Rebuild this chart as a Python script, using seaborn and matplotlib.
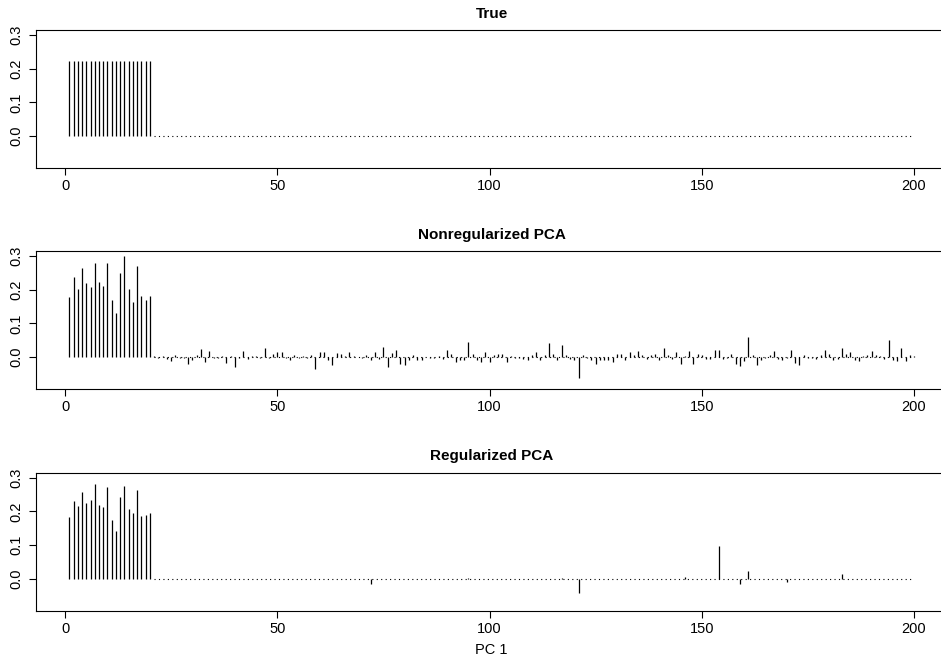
"""
Loadings of the first principal component (PC 1) for 200 variables:
true sparse loadings vs. ordinary PCA vs. regularized PCA.
Drawn as R-style spike plots (type = "h") with a dotted zero baseline.
"""
import numpy as np
import matplotlib
matplotlib.use("Agg")
import matplotlib.pyplot as plt
import seaborn as sns

# ── Data ─────────────────────────────────────────────────────────────────────
PC_INDEX = np.arange(1, 201)
N_SIGNAL = 20                      # first 20 variables carry the signal

TRUE_HEAD = [0.2236] * 20

NONREG_HEAD = [0.177, 0.238, 0.203, 0.264, 0.219, 0.207, 0.280, 0.224, 0.211, 0.280,
               0.168, 0.130, 0.251, 0.299, 0.203, 0.162, 0.270, 0.182, 0.170, 0.180]
NONREG_TAIL = [
     0.002, -0.002,  0.002, -0.007, -0.013,  0.007, -0.003, -0.003, -0.020, -0.010,   # 21-30
     0.005,  0.024, -0.016,  0.018, -0.003, -0.003,  0.003, -0.018,  0.004, -0.030,   # 31-40
    -0.003,  0.017, -0.005,  0.004,  0.003, -0.004,  0.027, -0.003,  0.008,  0.014,   # 41-50
     0.014, -0.004, -0.008,  0.005, -0.003,  0.002, -0.003,  0.005, -0.036,  0.015,   # 51-60
     0.014, -0.010, -0.024,  0.012,  0.010,  0.003,  0.016,  0.003,  0.001, -0.003,   # 61-70
     0.005, -0.010,  0.016, -0.006,  0.030, -0.030,  0.012,  0.022, -0.020, -0.024,   # 71-80
    -0.010,  0.005, -0.008, -0.010,  0.001, -0.004, -0.004,  0.004, -0.005,  0.020,   # 81-90
     0.008, -0.016, -0.008, -0.010,  0.044,  0.008, -0.008, -0.015,  0.014, -0.015,   # 91-100
     0.006,  0.008,  0.010, -0.015,  0.003, -0.003, -0.004, -0.005, -0.010,  0.006,   # 101-110
     0.016, -0.010,  0.005,  0.041,  0.010, -0.008,  0.036,  0.005, -0.005, -0.010,   # 111-120
    -0.062,  0.005, -0.003, -0.010, -0.020, -0.010, -0.010, -0.010, -0.016,  0.010,   # 121-130
     0.010, -0.008,  0.016,  0.006,  0.018,  0.005, -0.005,  0.006,  0.010, -0.010,   # 131-140
     0.027,  0.005, -0.005,  0.016, -0.022,  0.004,  0.019, -0.020,  0.010,  0.006,   # 141-150
    -0.006, -0.006,  0.021,  0.021, -0.005, -0.003,  0.010, -0.020, -0.026, -0.013,   # 151-160
     0.060,  0.005, -0.024, -0.008, -0.004,  0.006,  0.019, -0.005, -0.010, -0.003,   # 161-170
     0.020, -0.018, -0.024,  0.005, -0.003, -0.003, -0.006,  0.005,  0.020,  0.008,   # 171-180
    -0.010, -0.006,  0.026,  0.010,  0.014, -0.008, -0.012,  0.003,  0.006,  0.019,   # 181-190
     0.006,  0.003, -0.006,  0.050, -0.010, -0.012,  0.026, -0.012,  0.006,  0.003,   # 191-200
]

REG_HEAD = [0.182, 0.230, 0.216, 0.257, 0.224, 0.233, 0.280, 0.218, 0.213, 0.272,
            0.173, 0.141, 0.242, 0.275, 0.207, 0.196, 0.263, 0.185, 0.189, 0.196]
# regularized PCA: nearly all noise loadings shrunk to zero, a few survive
REG_TAIL_POS = [72, 95, 117, 121, 146, 154, 159, 161, 170, 183]
REG_TAIL_VAL = [-0.015, 0.002, 0.002, -0.043, 0.004, 0.098, -0.015, 0.022, -0.010, 0.013]

TITLES = ["True", "Nonregularized PCA", "Regularized PCA"]
Y_TICKS = [0.0, 0.1, 0.2, 0.3]
X_TICKS = [0, 50, 100, 150, 200]

# ── Style ────────────────────────────────────────────────────────────────────
INK = "#000000"
FONT = ["Liberation Sans", "DejaVu Sans"]

sns.set_theme(style="white")
plt.rcParams.update({
    "font.family": FONT,
    "text.color": INK,
    "axes.labelcolor": INK,
    "axes.titlecolor": INK,
    "axes.edgecolor": INK,
    "axes.linewidth": 0.8,
    "xtick.color": INK,
    "ytick.color": INK,
    "xtick.labelcolor": INK,
    "ytick.labelcolor": INK,
    "xtick.bottom": True,
    "ytick.left": True,
})


def build_series():
    true = np.array(TRUE_HEAD + [0.0] * (len(PC_INDEX) - N_SIGNAL))
    nonreg = np.array(NONREG_HEAD + NONREG_TAIL)
    reg = np.zeros(len(PC_INDEX))
    reg[:N_SIGNAL] = REG_HEAD
    reg[np.array(REG_TAIL_POS) - 1] = REG_TAIL_VAL
    return [true, nonreg, reg]


def draw_panel(ax, values, title, show_xlabel=False):
    # spikes, like R's type = "h"
    ax.vlines(PC_INDEX, 0, values, color=INK, linewidth=0.9)
    # dotted zero line over the noise variables
    tail_x = PC_INDEX[N_SIGNAL:]
    sns.lineplot(x=tail_x, y=np.zeros(len(tail_x)), ax=ax, color=INK,
                 linewidth=0.8, linestyle=(0, (1, 3)))

    ax.set_xlim(-6.96, 207.96)
    ax.set_ylim(-0.095, 0.315)
    ax.set_xticks(X_TICKS)
    ax.set_xticklabels([str(t) for t in X_TICKS])
    ax.set_yticks(Y_TICKS)
    ax.set_yticklabels([f"{t:.1f}" for t in Y_TICKS], rotation=90, va="center")
    ax.tick_params(axis="x", length=5, width=0.8, pad=3, labelsize=10.5)
    ax.tick_params(axis="y", length=5, width=0.8, pad=3.5, labelsize=10.5)
    ax.grid(False)
    for side in ax.spines.values():
        side.set_visible(True)
        side.set_linewidth(0.8)

    ax.set_title(title, fontsize=11, fontweight="bold", pad=9)
    ax.set_xlabel("PC 1" if show_xlabel else "", fontsize=10.5, labelpad=5)
    ax.set_ylabel("")


def main():
    fig = plt.figure(figsize=(9.41, 6.62), dpi=100)
    left, width, height = 35.5 / 941, (947.8 - 35.5) / 941, 138 / 662
    bottoms = [1 - 168 / 662, 1 - 389 / 662, 1 - 610.7 / 662]

    for i, (values, title, bottom) in enumerate(zip(build_series(), TITLES, bottoms)):
        ax = fig.add_axes([left, bottom, width, height])
        draw_panel(ax, values, title, show_xlabel=(i == len(TITLES) - 1))

    fig.savefig("out.png", dpi=100)
    plt.close(fig)


if __name__ == "__main__":
    main()
